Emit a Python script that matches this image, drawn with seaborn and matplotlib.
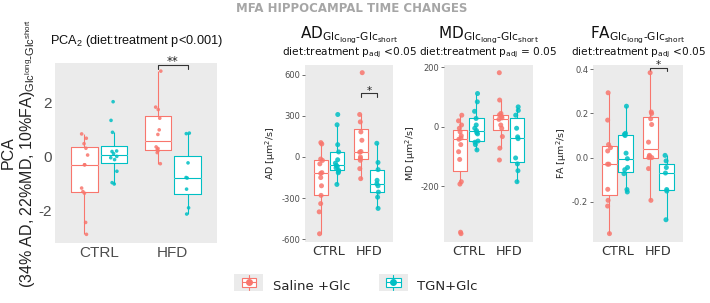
import matplotlib

matplotlib.use("Agg")
import matplotlib.pyplot as plt
import numpy as np
import pandas as pd
import seaborn as sns
from matplotlib.legend_handler import HandlerBase
from matplotlib.lines import Line2D
from matplotlib.patches import Rectangle
from matplotlib.ticker import FormatStrFormatter

# --- data ---
DIETS = ["CTRL", "HFD"]
TREATS = ["Saline +Glc", "TGN+Glc"]

pca_ctrl_sal = [0.83, 0.67, 0.47, 0.30, 0.05, -0.31, -0.31, -1.17, -1.30, -1.36, -2.44, -2.88]
pca_ctrl_tgn = [2.02, 1.33, 0.89, 0.20, 0.18, 0.10, 0.0, -0.05, -0.12, -0.55, -0.97, -1.02]
pca_hfd_sal = [3.15, 1.82, 1.73, 1.41, 0.98, 0.81, 0.35, 0.29, 0.25, 0.20, 0.14, -0.27]
pca_hfd_tgn = [0.86, 0.84, -0.24, -0.78, -0.80, -1.21, -1.90, -2.13]

ad_ctrl_sal = [105, 95, -15, -25, -50, -114, -120, -150, -210, -280, -340, -400, -560]
ad_ctrl_tgn = [310, 235, 90, 37, -20, -45, -61, -70, -80, -97, -105, -115, -200]
ad_hfd_sal = [615, 310, 256, 183, 122, 40, 35, 0, -12, -24, -85, -158]
ad_hfd_tgn = [100, -40, -92, -170, -195, -210, -256, -293, -375]

md_ctrl_sal = [39, 20, 6, -5, -17, -30, -38, -42, -60, -84, -110, -185, -193, -355, -360]
md_ctrl_tgn = [112, 84, 52, 28, 6, -5, -13, -20, -24, -48, -52, -60, -78]
md_hfd_sal = [182, 90, 45, 40, 35, 30, 25, 6, -5, -33, -72, -112]
md_hfd_tgn = [67, 55, 39, -5, -34, -40, -105, -125, -148, -185]

fa_ctrl_sal = [0.294, 0.17, 0.059, 0.045, 0.03, -0.03, -0.03, -0.144, -0.194, -0.22, -0.345]
fa_ctrl_tgn = [0.233, 0.11, 0.105, 0.10, 0.02, -0.005, -0.045, -0.055, -0.073, -0.145, -0.156]
fa_hfd_sal = [0.385, 0.207, 0.20, 0.176, 0.15, 0.07, 0.01, 0.005, 0.0, 0.0, -0.05, -0.194]
fa_hfd_tgn = [0.01, -0.015, -0.045, -0.07, -0.145, -0.152, -0.282]

RED, TEAL = "#F8766D", "#00BFC4"
PALETTE = {"Saline +Glc": RED, "TGN+Glc": TEAL}
PANEL_BG = "#EBEBEB"
SUB = "$_\\mathregular{Glc_{long}\\text{-}Glc_{short}}$"

W, H = 710, 303


def lang(cs, ct, hs, ht):
    # long format dataframe: ena row ana paratirisi
    rows = []
    for diet, treat, vals in [("CTRL", TREATS[0], cs), ("CTRL", TREATS[1], ct),
                              ("HFD", TREATS[0], hs), ("HFD", TREATS[1], ht)]:
        rows += [{"diet": diet, "treatment": treat, "value": v} for v in vals]
    return pd.DataFrame(rows)


def px_axes(fig, x0, x1, y0, y1):
    return fig.add_axes([x0 / W, 1 - y1 / H, (x1 - x0) / W, (y1 - y0) / H])


def boxes(ax, df, pt_size):
    common = dict(data=df, x="diet", y="value", hue="treatment", order=DIETS,
                  hue_order=TREATS, width=0.8, gap=0.1, showfliers=False,
                  showcaps=False, linewidth=0.8, legend=False, ax=ax)
    # prwta lefka gemismata, meta ta xrwmatista perigrammata
    sns.boxplot(palette={t: "white" for t in TREATS}, linecolor="white", **common)
    sns.boxplot(palette=PALETTE, fill=False, **common)
    sns.stripplot(data=df, x="diet", y="value", hue="treatment", order=DIETS,
                  hue_order=TREATS, palette=PALETTE, dodge=True, jitter=0.09,
                  size=pt_size, alpha=0.85, linewidth=0, legend=False, ax=ax)
    ax.set_facecolor(PANEL_BG)
    for s in ax.spines.values():
        s.set_visible(False)
    ax.set_xlim(-0.6, 1.6)
    ax.set_xlabel("")


def bracket(ax, y, dy, label, fs):
    # significance bracket anamesa sta 2 HFD boxes
    xs = [1 - 0.2, 1 + 0.2]
    ax.plot([xs[0], xs[0], xs[1], xs[1]], [y - dy, y, y, y - dy], color="#333333",
            lw=0.8, clip_on=False)
    ax.annotate(label, (1, y), xytext=(0, -2), textcoords="offset points",
                ha="center", va="bottom", fontsize=fs, color="#222222")


class BoxKey(HandlerBase):
    def create_artists(self, legend, orig, x0, y0, w, h, fontsize, trans):
        c = orig.get_color()
        bg = Rectangle((x0, y0 - 0.2 * h), w, 1.4 * h, fc=PANEL_BG, ec="none", transform=trans)
        wk = Line2D([x0 + w / 2] * 2, [y0 - 0.1 * h, y0 + 1.1 * h], color=c, lw=0.8, transform=trans)
        bx = Rectangle((x0 + 0.25 * w, y0 + 0.15 * h), 0.5 * w, 0.7 * h, fc="white", ec=c, lw=0.8, transform=trans)
        md = Line2D([x0 + 0.25 * w, x0 + 0.75 * w], [y0 + h / 2] * 2, color=c, lw=0.8, transform=trans)
        dot = Line2D([x0 + w / 2], [y0 + h / 2], marker="o", ms=4, color=c, lw=0, transform=trans)
        return [bg, wk, bx, md, dot]


def main():
    sns.set_theme(style="white")
    plt.rcParams["font.family"] = ["DejaVu Sans"]
    plt.rcParams["axes.unicode_minus"] = False
    np.random.seed(7)

    fig = plt.figure(figsize=(W / 100, H / 100), dpi=100)

    # ---- PCA panel ----
    ax = px_axes(fig, 55, 217, 63, 243)
    boxes(ax, lang(pca_ctrl_sal, pca_ctrl_tgn, pca_hfd_sal, pca_hfd_tgn), 2.6)
    ax.set_ylim(-3.2, 3.45)
    ax.set_yticks([-2, 0, 2])
    ax.tick_params(length=0, labelsize=11, labelcolor="#4D4D4D", pad=2)
    for t in ax.get_xticklabels() + ax.get_yticklabels():
        t.set_family("Liberation Sans")
    ax.set_ylabel("PCA\n(34% AD, 22%MD, 10%FA)$_\\mathregular{Glc^{long}\\text{-}Glc^{short}}$",
                  family="Liberation Sans", fontsize=11.5, color="#222222", labelpad=1)
    ax.set_title("PCA$_\\mathregular{2}$ (diet:treatment p<0.001)", family="Liberation Sans",
                 fontsize=9.2, color="#111111", pad=14)
    bracket(ax, 3.38, 0.15, "**", 8.5)

    # ---- AD / MD / FA panels ----
    specs = [
        ("AD", (305, 393), lang(ad_ctrl_sal, ad_ctrl_tgn, ad_hfd_sal, ad_hfd_tgn),
         (-620, 671), [-600, -300, 0, 300, 600], "%d", "<0.05", 464, 25),
        ("MD", (444, 533), lang(md_ctrl_sal, md_ctrl_tgn, md_hfd_sal, md_hfd_tgn),
         (-388, 208), [-200, 0, 200], "%d", "= 0.05", None, 0),
        ("FA", (593, 683), lang(fa_ctrl_sal, fa_ctrl_tgn, fa_hfd_sal, fa_hfd_tgn),
         (-0.383, 0.42), [-0.2, 0.0, 0.2, 0.4], "%.1f", "<0.05", 0.408, 0.015),
    ]
    for name, (x0, x1), df, ylim, ticks, fmt, ptxt, sig_y, sig_dy in specs:
        ax = px_axes(fig, x0, x1, 65, 242)
        boxes(ax, df, 3.6)
        ax.set_ylim(*ylim)
        ax.set_yticks(ticks)
        ax.yaxis.set_major_formatter(FormatStrFormatter(fmt))
        ax.tick_params(axis="y", length=2.5, width=0.5, color="#333333",
                       labelsize=6, labelcolor="#4D4D4D", pad=1, left=True)
        ax.tick_params(axis="x", length=0, labelsize=9.2, labelcolor="#333333", pad=2)
        ax.set_ylabel(f"{name} [μm$^2$/s]", fontsize=6.8, color="#222222", labelpad=2)
        cx = (x0 + x1) / 2 / W
        fig.text(cx, 1 - 35 / H, name + SUB,
                 ha="center", va="center", fontsize=11, color="#111111")
        fig.text(cx, 1 - 53 / H, "diet:treatment p$_\\mathregular{adj}$ " + ptxt,
                 ha="center", va="center", fontsize=7.6, color="#111111")
        if sig_y is not None:
            bracket(ax, sig_y, sig_dy, "*", 7.5)

    fig.text(352 / W, 1 - 8 / H, "MFA HIPPOCAMPAL TIME CHANGES", ha="center", va="center",
             fontsize=8.5, fontweight="bold", color="#A6A6A6")

    handles = [Line2D([], [], color=RED), Line2D([], [], color=TEAL)]
    fig.legend(handles, TREATS, handler_map={Line2D: BoxKey()}, loc="center",
               bbox_to_anchor=(356 / W, 1 - 286 / H), ncol=2, frameon=False,
               fontsize=9.5, handlelength=2.2, handleheight=1.0, handletextpad=0.7,
               columnspacing=2.2)

    fig.savefig("out.png", dpi=100)
    plt.close(fig)


if __name__ == "__main__":
    main()
